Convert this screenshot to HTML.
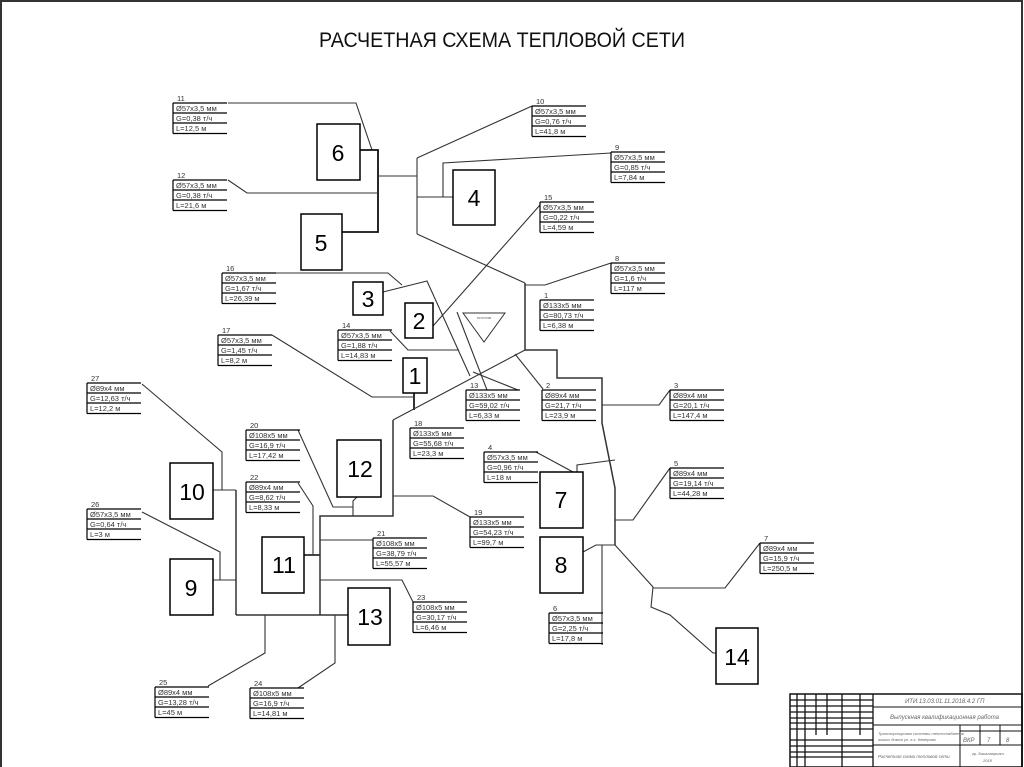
<!DOCTYPE html>
<html><head><meta charset="utf-8"><style>
html,body{margin:0;padding:0;background:#fff}
svg{display:block}
text{font-family:"Liberation Sans",sans-serif}
.l text{font-size:7.5px;fill:#333}
.n{font-size:23px;fill:#000}
</style></head><body>
<svg width="1024" height="767" viewBox="0 0 1024 767" xmlns="http://www.w3.org/2000/svg">
<defs>
<path id="fr" d="M0 0H54M0 10H54M0 20H54M0 30.5H54M0 0V30.5" fill="none" stroke="#000" stroke-width="1.2"/>
</defs>
<rect x="1" y="1" width="1021" height="770" fill="none" stroke="#333" stroke-width="2"/>
<text x="502" y="47" text-anchor="middle" font-size="21" textLength="366" lengthAdjust="spacingAndGlyphs" fill="#111">РАСЧЕТНАЯ СХЕМА ТЕПЛОВОЙ СЕТИ</text>

<g fill="none" stroke="#333" stroke-width="1.1">
<polyline points="228,103 356,103 372,150"/>
<polyline points="360,150 378,150 378,232 342,232" stroke-width="1.8" stroke="#111"/>
<polyline points="228,180 247,193 378,193"/>
<polyline points="378,176 417,176"/>
<polyline points="417,158 417,234"/>
<polyline points="417,158 532,106"/>
<polyline points="417,197 453,197"/>
<polyline points="443,197 443,163 611,153"/>
<polyline points="417,234 525,283"/>
<polyline points="525,283 525,350 557,350 557,378 602,378 602,423 615,488 615,545" stroke-width="1.5"/>
<polyline points="525,285 545,285 611,263"/>
<polyline points="540,205 433,326"/>
<polyline points="276,273 388,273 402,285"/>
<polyline points="383,292 427,281 470,376"/>
<polyline points="473,372 518,390"/>
<polyline points="390,331 408,350 459,350"/>
<polyline points="272,335 372,397 413,397"/>
<polyline points="414,393 414,410" stroke-width="2"/>
<polyline points="393,420 525,350"/>
<polyline points="515,354 543,389"/>
<polyline points="602,405 659,405 670,390"/>
<polyline points="615,520 633,520 670,468"/>
<polyline points="615,460 577,465 577,472"/>
<polyline points="583,552 596,545 615,545"/>
<polyline points="602,545 602,645"/>
<polyline points="536,452 573,472"/>
<polyline points="615,545 653,587 651,607 670,615 713,653 716,653"/>
<polyline points="653,588 725,588 760,543"/>
<polyline points="393,420 393,516 320,516 320,615" stroke-width="1.5"/>
<polyline points="236,615 348,615" stroke-width="1.5"/>
<polyline points="236,490 236,615" stroke-width="1.5"/>
<polyline points="213,490 236,490"/>
<polyline points="142,384 222,452 222,490"/>
<polyline points="213,580 236,580"/>
<polyline points="142,512 220,552 220,580"/>
<polyline points="304,555 320,555" stroke-width="1.8"/>
<polyline points="298,483 313,506 313,555"/>
<polyline points="298,430 333,507 353,507"/>
<polyline points="357,497 353,501 353,516"/>
<polyline points="393,496 433,496 470,517"/>
<polyline points="320,540 373,540"/>
<polyline points="320,580 402,580 413,602"/>
<polyline points="265,615 265,653 208,686"/>
<polyline points="335,615 335,663 298,688"/>
<polyline points="457,312 487,390"/>
</g>
<polygon points="463,313 505,313 484,342" fill="#fff" stroke="#333" stroke-width="1"/>
<text x="484" y="319" font-size="3.5" text-anchor="middle" fill="#666">источник</text>

<g fill="#fff" stroke="#000" stroke-width="1.5">
<rect x="317" y="124" width="43" height="56"/>
<rect x="301" y="214" width="41" height="56"/>
<rect x="453" y="170" width="42" height="55"/>
<rect x="353" y="282" width="30" height="33"/>
<rect x="405" y="303" width="28" height="35"/>
<rect x="403" y="358" width="24" height="35"/>
<rect x="337" y="440" width="44" height="57"/>
<rect x="170" y="463" width="43" height="56"/>
<rect x="262" y="537" width="42" height="56"/>
<rect x="170" y="559" width="43" height="56"/>
<rect x="348" y="588" width="42" height="57"/>
<rect x="540" y="472" width="43" height="56"/>
<rect x="540" y="537" width="43" height="56"/>
<rect x="716" y="628" width="42" height="56"/>
</g>
<g class="n" text-anchor="middle">
<text x="338" y="161">6</text>
<text x="321" y="251">5</text>
<text x="474" y="206">4</text>
<text x="368" y="307">3</text>
<text x="419" y="329">2</text>
<text x="415" y="384">1</text>
<text x="360" y="477">12</text>
<text x="192" y="500">10</text>
<text x="284" y="573">11</text>
<text x="191" y="596">9</text>
<text x="370" y="625">13</text>
<text x="561" y="508">7</text>
<text x="561" y="573">8</text>
<text x="737" y="665">14</text>
</g>

<g class="l">
<g transform="translate(173,103)"><use href="#fr"/><text x="4" y="-2">11</text><text x="3" y="8">Ø57х3,5 мм</text><text x="3" y="18">G=0,38 т/ч</text><text x="3" y="28">L=12,5 м</text></g>
<g transform="translate(173,180)"><use href="#fr"/><text x="4" y="-2">12</text><text x="3" y="8">Ø57х3,5 мм</text><text x="3" y="18">G=0,38 т/ч</text><text x="3" y="28">L=21,6 м</text></g>
<g transform="translate(532,106)"><use href="#fr"/><text x="4" y="-2">10</text><text x="3" y="8">Ø57х3,5 мм</text><text x="3" y="18">G=0,76 т/ч</text><text x="3" y="28">L=41,8 м</text></g>
<g transform="translate(611,152)"><use href="#fr"/><text x="4" y="-2">9</text><text x="3" y="8">Ø57х3,5 мм</text><text x="3" y="18">G=0,85 т/ч</text><text x="3" y="28">L=7,84 м</text></g>
<g transform="translate(540,202)"><use href="#fr"/><text x="4" y="-2">15</text><text x="3" y="8">Ø57х3,5 мм</text><text x="3" y="18">G=0,22 т/ч</text><text x="3" y="28">L=4,59 м</text></g>
<g transform="translate(611,263)"><use href="#fr"/><text x="4" y="-2">8</text><text x="3" y="8">Ø57х3,5 мм</text><text x="3" y="18">G=1,6 т/ч</text><text x="3" y="28">L=117 м</text></g>
<g transform="translate(222,273)"><use href="#fr"/><text x="4" y="-2">16</text><text x="3" y="8">Ø57х3,5 мм</text><text x="3" y="18">G=1,67 т/ч</text><text x="3" y="28">L=26,39 м</text></g>
<g transform="translate(540,300)"><use href="#fr"/><text x="4" y="-2">1</text><text x="3" y="8">Ø133х5 мм</text><text x="3" y="18">G=80,73 т/ч</text><text x="3" y="28">L=6,38 м</text></g>
<g transform="translate(338,330)"><use href="#fr"/><text x="4" y="-2">14</text><text x="3" y="8">Ø57х3,5 мм</text><text x="3" y="18">G=1,88 т/ч</text><text x="3" y="28">L=14,83 м</text></g>
<g transform="translate(218,335)"><use href="#fr"/><text x="4" y="-2">17</text><text x="3" y="8">Ø57х3,5 мм</text><text x="3" y="18">G=1,45 т/ч</text><text x="3" y="28">L=8,2 м</text></g>
<g transform="translate(87,383)"><use href="#fr"/><text x="4" y="-2">27</text><text x="3" y="8">Ø89х4 мм</text><text x="3" y="18">G=12,63 т/ч</text><text x="3" y="28">L=12,2 м</text></g>
<g transform="translate(466,390)"><use href="#fr"/><text x="4" y="-2">13</text><text x="3" y="8">Ø133х5 мм</text><text x="3" y="18">G=59,02 т/ч</text><text x="3" y="28">L=6,33 м</text></g>
<g transform="translate(542,390)"><use href="#fr"/><text x="4" y="-2">2</text><text x="3" y="8">Ø89х4 мм</text><text x="3" y="18">G=21,7 т/ч</text><text x="3" y="28">L=23,9 м</text></g>
<g transform="translate(670,390)"><use href="#fr"/><text x="4" y="-2">3</text><text x="3" y="8">Ø89х4 мм</text><text x="3" y="18">G=20,1 т/ч</text><text x="3" y="28">L=147,4 м</text></g>
<g transform="translate(410,428)"><use href="#fr"/><text x="4" y="-2">18</text><text x="3" y="8">Ø133х5 мм</text><text x="3" y="18">G=55,68 т/ч</text><text x="3" y="28">L=23,3 м</text></g>
<g transform="translate(246,430)"><use href="#fr"/><text x="4" y="-2">20</text><text x="3" y="8">Ø108х5 мм</text><text x="3" y="18">G=16,9 т/ч</text><text x="3" y="28">L=17,42 м</text></g>
<g transform="translate(484,452)"><use href="#fr"/><text x="4" y="-2">4</text><text x="3" y="8">Ø57х3,5 мм</text><text x="3" y="18">G=0,96 т/ч</text><text x="3" y="28">L=18 м</text></g>
<g transform="translate(670,468)"><use href="#fr"/><text x="4" y="-2">5</text><text x="3" y="8">Ø89х4 мм</text><text x="3" y="18">G=19,14 т/ч</text><text x="3" y="28">L=44,28 м</text></g>
<g transform="translate(246,482)"><use href="#fr"/><text x="4" y="-2">22</text><text x="3" y="8">Ø89х4 мм</text><text x="3" y="18">G=8,62 т/ч</text><text x="3" y="28">L=8,33 м</text></g>
<g transform="translate(87,509)"><use href="#fr"/><text x="4" y="-2">26</text><text x="3" y="8">Ø57х3,5 мм</text><text x="3" y="18">G=0,64 т/ч</text><text x="3" y="28">L=3 м</text></g>
<g transform="translate(470,517)"><use href="#fr"/><text x="4" y="-2">19</text><text x="3" y="8">Ø133х5 мм</text><text x="3" y="18">G=54,23 т/ч</text><text x="3" y="28">L=99,7 м</text></g>
<g transform="translate(373,538)"><use href="#fr"/><text x="4" y="-2">21</text><text x="3" y="8">Ø108х5 мм</text><text x="3" y="18">G=38,79 т/ч</text><text x="3" y="28">L=55,57 м</text></g>
<g transform="translate(760,543)"><use href="#fr"/><text x="4" y="-2">7</text><text x="3" y="8">Ø89х4 мм</text><text x="3" y="18">G=15,9 т/ч</text><text x="3" y="28">L=250,5 м</text></g>
<g transform="translate(413,602)"><use href="#fr"/><text x="4" y="-2">23</text><text x="3" y="8">Ø108х5 мм</text><text x="3" y="18">G=30,17 т/ч</text><text x="3" y="28">L=6,46 м</text></g>
<g transform="translate(549,613)"><use href="#fr"/><text x="4" y="-2">6</text><text x="3" y="8">Ø57х3,5 мм</text><text x="3" y="18">G=2,25 т/ч</text><text x="3" y="28">L=17,8 м</text></g>
<g transform="translate(155,687)"><use href="#fr"/><text x="4" y="-2">25</text><text x="3" y="8">Ø89х4 мм</text><text x="3" y="18">G=13,28 т/ч</text><text x="3" y="28">L=45 м</text></g>
<g transform="translate(250,688)"><use href="#fr"/><text x="4" y="-2">24</text><text x="3" y="8">Ø108х5 мм</text><text x="3" y="18">G=16,9 т/ч</text><text x="3" y="28">L=14,81 м</text></g>
</g>

<g fill="none" stroke="#111">
<rect x="790" y="694" width="232" height="73" stroke-width="1.5"/>
<path d="M797 694V767M805 694V767M816 694V735M827 694V735M842 694V767M860 694V735M873 694V767" stroke-width="1.3"/>
<path d="M790 700H873M790 706H873M790 712H873M790 718H873M790 723H873M790 729H873M790 740H873M790 746H873M790 752H873M790 757H873" stroke-width="1.2"/>
<path d="M873 707H1022M873 725H1022M873 745H1022M960 725V767M980 725V745M1000 725V745M960 731H1022" stroke-width="1"/>
</g>
<g font-size="6" fill="#666" font-style="italic">
<text x="905" y="703">ИТИ.13.03.01.11.2018.4.2 ГП</text>
<text x="890" y="719">Выпускная квалификационная работа</text>
<text x="878" y="735" font-size="4">Транспортировка системы теплоснабжения</text>
<text x="878" y="741" font-size="4">жилых домов ул. в г. Кемерово</text>
<text x="878" y="758" font-size="4.5">Расчетная схема тепловой сети</text>
<text x="963" y="742">ВКР</text><text x="987" y="742">7</text><text x="1006" y="742">8</text>
<text x="972" y="755" font-size="4">гр. Бакалавриат</text><text x="983" y="762" font-size="4">2018</text>
</g>
</svg>
</body></html>
